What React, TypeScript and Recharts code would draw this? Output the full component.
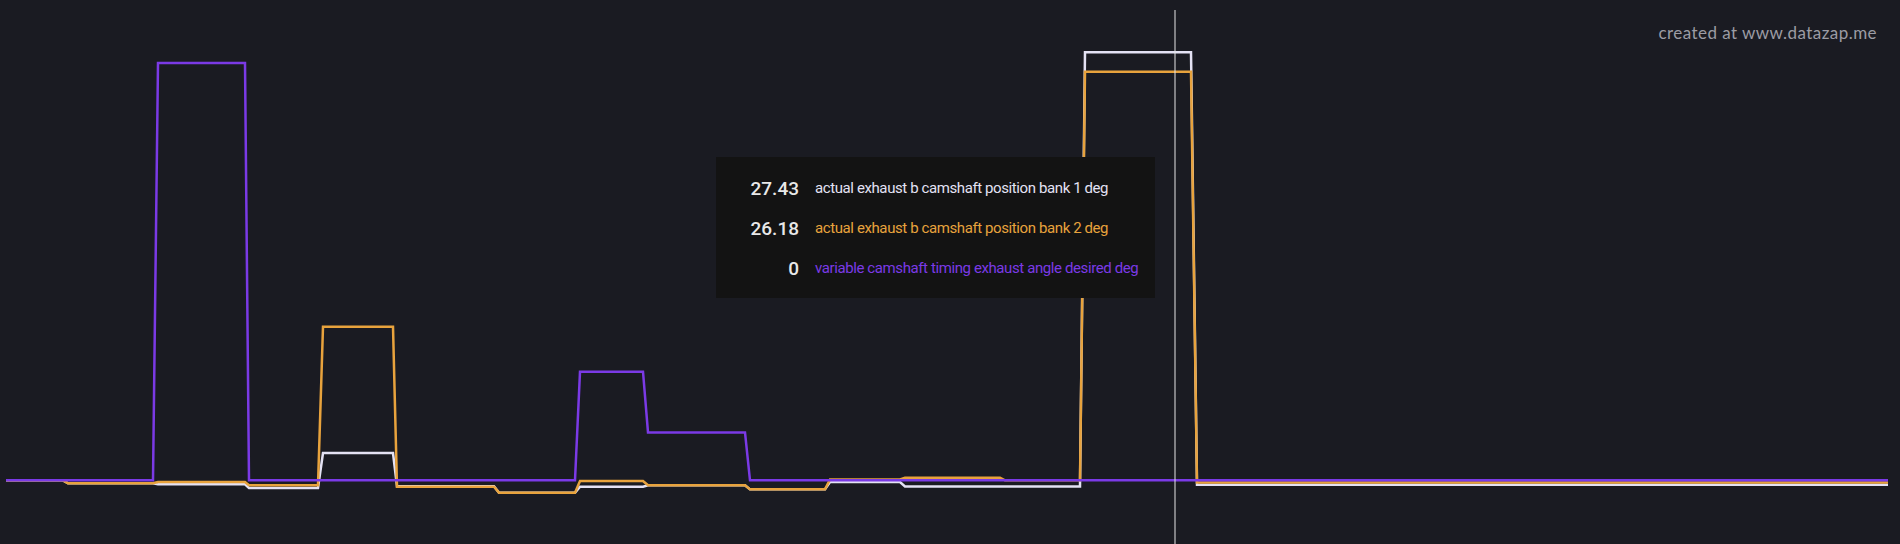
import { Line, LineChart, Tooltip, XAxis, YAxis } from 'recharts'

const BG = '#1a1b22'
const BANK1_COLOR = '#e4e2f4'
const BANK2_COLOR = '#e8a33d'
const DESIRED_COLOR = '#7b3ae6'

// time (s) of each logged sample
const time = [
  0, 1.14, 1.24, 2.94, 3.04, 4.78, 4.86, 6.24, 6.34, 7.74, 7.82, 9.76, 9.86, 11.38, 11.48, 12.74,
  12.84, 14.78, 14.88, 16.38, 16.48, 17.88, 17.98, 19.88, 19.98, 21.48, 21.58, 23.38, 23.7, 23.82,
  37.64,
]
const bank1 = [
  0, 0, -0.19, -0.19, -0.26, -0.26, -0.49, -0.49, 1.75, 1.75, -0.38, -0.38, -0.79, -0.79, -0.41,
  -0.41, -0.32, -0.32, -0.58, -0.58, -0.11, -0.11, -0.39, -0.39, -0.39, -0.39, 27.43, 27.43, 27.43,
  -0.28, -0.28,
]
const bank2 = [
  0, 0, -0.19, -0.19, -0.11, -0.11, -0.32, -0.32, 9.84, 9.84, -0.41, -0.41, -0.79, -0.79, -0.04,
  -0.04, -0.32, -0.32, -0.58, -0.58, 0.06, 0.06, 0.17, 0.17, 0, 0, 26.18, 26.18, 26.18, -0.14, -0.14,
]
const desired = [
  0, 0, 0, 0, 26.73, 26.73, 0, 0, 0, 0, 0, 0, 0, 0, 6.96, 6.96, 3.07, 3.07, 0, 0, 0, 0, 0, 0, 0, 0, 0,
  0, 0, 0, 0,
]
const CURSOR_INDEX = 27

const series = [
  { key: 'bank1', name: 'actual exhaust b camshaft position bank 1 deg', color: BANK1_COLOR },
  { key: 'bank2', name: 'actual exhaust b camshaft position bank 2 deg', color: BANK2_COLOR },
  { key: 'desired', name: 'variable camshaft timing exhaust angle desired deg', color: DESIRED_COLOR },
]

const data = time.map((t, i) => ({ time: t, bank1: bank1[i], bank2: bank2[i], desired: desired[i] }))

function ValuesBox({ active, payload }: any) {
  if (!active || !payload || !payload.length) return null
  return (
    <div
      style={{
        width: 439,
        height: 141,
        background: '#131313',
        boxSizing: 'border-box',
        paddingTop: 11,
        fontFamily: 'Roboto, sans-serif',
      }}
    >
      {series.map((s) => {
        const p = payload.find((item: any) => item.dataKey === s.key)
        return (
          <div key={s.key} style={{ display: 'flex', alignItems: 'center', height: 40 }}>
            <span
              style={{
                width: 83,
                textAlign: 'right',
                fontSize: 19,
                fontWeight: 500,
                color: '#e8e8e8',
              }}
            >
              {p ? String(p.value) : ''}
            </span>
            <span
              style={{
                marginLeft: 16,
                fontSize: 15,
                color: s.color,
                whiteSpace: 'nowrap',
                letterSpacing: -0.4,
              }}
            >
              {s.name}
            </span>
          </div>
        )
      })}
    </div>
  )
}

export default function App() {
  return (
    <div
      style={{ position: 'fixed', left: 0, top: 0, width: 1900, height: 544, background: BG, overflow: 'hidden' }}
    >
      <LineChart width={1900} height={544} data={data} margin={{ top: 10, right: 12, bottom: 0, left: 6 }}>
        <XAxis type="number" dataKey="time" domain={[0, 37.64]} hide />
        <YAxis domain={[-4.08, 30.13]} allowDataOverflow hide />
        <Tooltip
          content={<ValuesBox />}
          defaultIndex={CURSOR_INDEX}
          position={{ x: 716, y: 157 }}
          cursor={{ stroke: '#e6e6e6', strokeWidth: 1 }}
          isAnimationActive={false}
          wrapperStyle={{ outline: 'none' }}
        />
        <Line type="linear" dataKey="bank1" stroke={BANK1_COLOR} strokeWidth={2.5} dot={false} activeDot={false} isAnimationActive={false} />
        <Line type="linear" dataKey="bank2" stroke={BANK2_COLOR} strokeWidth={2.5} dot={false} activeDot={false} isAnimationActive={false} />
        <Line type="linear" dataKey="desired" stroke={DESIRED_COLOR} strokeWidth={2.5} dot={false} activeDot={false} isAnimationActive={false} />
      </LineChart>
      <div
        style={{
          position: 'absolute',
          right: 23,
          top: 22,
          fontFamily: 'Lato, sans-serif',
          fontSize: 17,
          color: '#9c9ca4',
          letterSpacing: 0.45,
        }}
      >
        created at www.datazap.me
      </div>
    </div>
  )
}
